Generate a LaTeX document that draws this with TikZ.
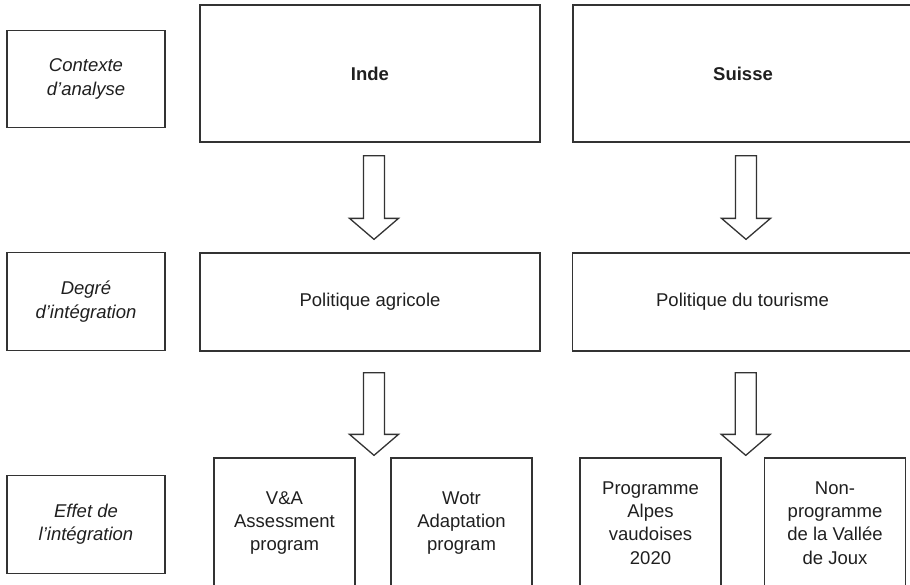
\documentclass[tikz,border=0pt]{standalone}
\usepackage{fontspec}
\setmainfont{Liberation Sans}
\usetikzlibrary{calc}

% hollow down arrow from tail #1 to tip #2
\newcommand{\fatarrow}[2]{%
  \draw[fatline] let \p1=(#1), \p2=(#2) in
    (\x2-5.25pt,\y1) -- (\x2+5.25pt,\y1) -- (\x2+5.25pt,\y2+10.5pt)
    -- (\x2+12.25pt,\y2+10.5pt) -- (\x2,\y2) -- (\x2-12.25pt,\y2+10.5pt)
    -- (\x2-5.25pt,\y2+10.5pt) -- cycle;}

\begin{document}
\begin{tikzpicture}[x=0.5pt,y=-0.5pt,
  cell/.style={draw=black!80, line width=0.65pt, align=center, inner sep=0pt,
    text=black!88, font=\fontsize{9.25}{11.65}\selectfont},
  tag/.style={cell, font=\fontsize{9.25}{11.65}\selectfont\itshape,
    minimum width=79pt, minimum height=48.75pt},
  land/.style={cell, font=\fontsize{9.25}{11.65}\selectfont\bfseries,
    minimum width=170pt, minimum height=68.5pt},
  policy/.style={cell, minimum width=170pt, minimum height=49pt},
  prog/.style={cell, minimum width=70.5pt, minimum height=65pt},
  fatline/.style={draw=black!80, line width=0.65pt, fill=white}]
	\useasboundingbox (0,0) rectangle (910,584);
	\clip (0,0) rectangle (910,584);

	% row labels
	\node[tag] (ctx) at (86,79) {Contexte\\d’analyse};
	\node[tag] (deg) at (86,301.5) {Degré\\d’intégration};
	\node[tag] (eff) at (86,524.5) {Effet de\\l’intégration};

	% countries
	\node[land] (inde) at (370,73.5) {Inde};
	\node[land] (suisse) at (743,73.5) {Suisse};

	% policies
	\node[policy] (agri) at (370,302) {Politique agricole};
	\node[policy] (tour) at (742.5,302) {Politique du tourisme};

	% programmes
	\node[prog] (va) at (284.5,523) {V\&A\\Assessment\\program};
	\node[prog] (wotr) at (461.5,523) {Wotr\\Adaptation\\program};
	\node[prog] (alpes) at (650.5,523) {Programme\\Alpes\\vaudoises\\2020};
	\node[prog] (joux) at (835,523) {Non-\\programme\\de la Vallée\\de Joux};

	% arrow ends
	\coordinate (t1) at ($(inde.south)+(4,13)$);
	\coordinate (h1) at ($(agri.north)+(4,-13)$);
	\coordinate (t2) at ($(suisse.south)+(3,13)$);
	\coordinate (h2) at ($(tour.north)+(3.5,-13)$);
	\coordinate (t3) at ($(agri.south)+(4,21)$);
	\coordinate (h3) at ($(va.north east)!0.5!(wotr.north west)+(1,-2)$);
	\coordinate (t4) at ($(tour.south)+(3.5,21)$);
	\coordinate (h4) at ($(alpes.north east)!0.5!(joux.north west)+(3,-2)$);

	\fatarrow{t1}{h1}
	\fatarrow{t2}{h2}
	\fatarrow{t3}{h3}
	\fatarrow{t4}{h4}
\end{tikzpicture}
\end{document}
